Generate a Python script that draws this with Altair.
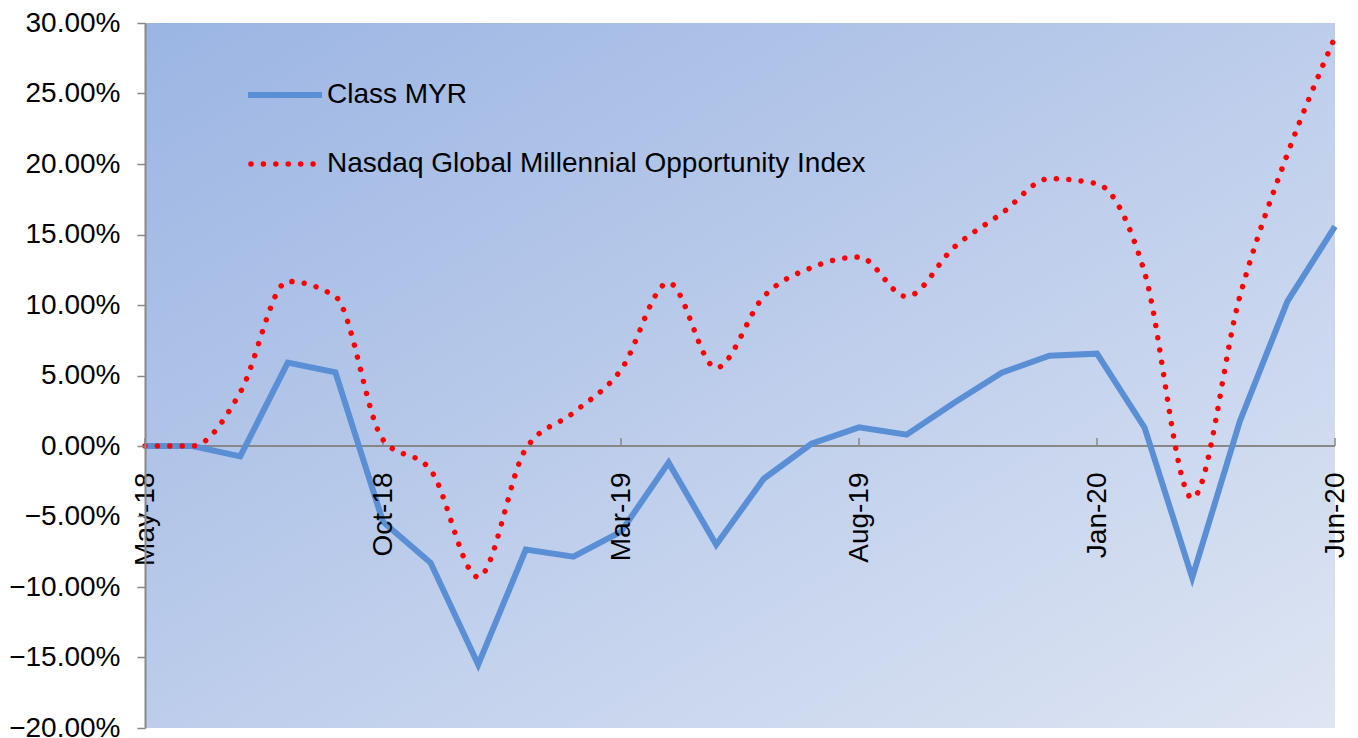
import altair as alt
import pandas as pd

months = ["May-18", "Jun-18", "Jul-18", "Aug-18", "Sep-18", "Oct-18", "Nov-18", "Dec-18",
          "Jan-19", "Feb-19", "Mar-19", "Apr-19", "May-19", "Jun-19", "Jul-19", "Aug-19",
          "Sep-19", "Oct-19", "Nov-19", "Dec-19", "Jan-20", "Feb-20", "Mar-20", "Apr-20",
          "May-20", "Jun-20"]

# cumulative return, in percent
class_myr = [0.0, 0.0, -0.74, 5.91, 5.22, -5.37, -8.28, -15.5, -7.35, -7.85, -6.08, -1.18,
             -7.0, -2.32, 0.16, 1.32, 0.80, 3.07, 5.2, 6.4, 6.55, 1.3, -9.34, 1.74, 10.26, 15.57]
nasdaq = [0.0, 0.0, 3.8, 11.67, 10.6, 0.45, -1.7, -9.3, -0.2, 2.36, 5.4, 11.58,
          5.55, 10.6, 12.65, 13.4, 10.6, 14.1, 16.5, 18.96, 18.6, 12.3, -3.7, 10.6, 20.7, 29.0]

tick_months = ["May-18", "Oct-18", "Mar-19", "Aug-19", "Jan-20", "Jun-20"]
y_ticks = [-0.20, -0.15, -0.10, -0.05, 0.0, 0.05, 0.10, 0.15, 0.20, 0.25, 0.30]
series_names = ["Class MYR", "Nasdaq Global Millennial Opportunity Index"]
series_colors = ["#5A8FD5", "#FF0000"]

W, H = 1190, 705
FONT = "Liberation Sans"
GRAY = "#888888"
DOTS = [0.01, 12.4]

df = pd.DataFrame({
    "month": months * 2,
    "series": [series_names[0]] * len(months) + [series_names[1]] * len(months),
    "value": [v / 100 for v in class_myr] + [v / 100 for v in nasdaq],
})

x_enc = alt.X("month:O", sort=months,
              scale=alt.Scale(type="point", padding=0),
              axis=alt.Axis(values=tick_months, title=None, labelAngle=270,
                            labelAlign="right", labelBaseline="middle",
                            labelFontSize=28, labelFont=FONT, labelColor="black",
                            offset=-282, domain=False, ticks=False, labelPadding=26,
                            grid=False, zindex=1))

y_scale = alt.Scale(domain=[-0.2, 0.3], nice=False, zero=False)
y_enc = alt.Y("value:Q", scale=y_scale,
              axis=alt.Axis(values=y_ticks, format=".2%", title=None, grid=False,
                            labelFontSize=28, labelFont=FONT, labelColor="black",
                            domainColor=GRAY, domainWidth=2, tickColor=GRAY,
                            tickSize=8, tickWidth=1.5, labelPadding=17, zindex=1))

gradient = alt.LinearGradient(
    gradient="linear",
    stops=[alt.GradientStop(color="#9BB5E3", offset=0),
           alt.GradientStop(color="#DEE5F3", offset=1)],
    x1=0, y1=0, x2=1, y2=1)

one = pd.DataFrame({"a": [0]})

background = alt.Chart(one).mark_rect(fill=gradient).encode(
    x=alt.value(0), x2=alt.value(W), y=alt.value(0), y2=alt.value(H))

zero_line = alt.Chart(one).mark_rule(color=GRAY, strokeWidth=2).encode(
    y=alt.Y(datum=0, type="quantitative", scale=y_scale))

ticks = alt.Chart(pd.DataFrame({"month": tick_months})).mark_rule(
    color=GRAY, strokeWidth=1.5).encode(
    x=alt.X("month:O", sort=months),
    y=alt.Y(datum=0, type="quantitative", scale=y_scale),
    y2=alt.Y2(datum=0.0056))

blue = alt.Chart(df[df.series == series_names[0]]).mark_line(
    color=series_colors[0], strokeWidth=6).encode(x=x_enc, y=y_enc)

red = alt.Chart(df[df.series == series_names[1]]).mark_line(
    color=series_colors[1], strokeWidth=5.5, strokeDash=DOTS, strokeCap="round",
    interpolate="monotone").encode(x=x_enc, y=y_enc)

# legend drawn inside the plot area
LEG_X0, LEG_X1, LEG_TX = 103, 177, 182
LEG_Y = [72, 141]

leg_blue = alt.Chart(one).mark_rule(color=series_colors[0], strokeWidth=6).encode(
    x=alt.value(LEG_X0), x2=alt.value(LEG_X1), y=alt.value(LEG_Y[0]))
leg_red = alt.Chart(one).mark_rule(color=series_colors[1], strokeWidth=5.5,
                                   strokeDash=DOTS, strokeCap="round").encode(
    x=alt.value(LEG_X0 + 3), x2=alt.value(LEG_X1), y=alt.value(LEG_Y[1]))
leg_text_blue = alt.Chart(pd.DataFrame({"label": [series_names[0]]})).mark_text(
    align="left", baseline="middle", fontSize=28, font=FONT, color="black").encode(
    x=alt.value(LEG_TX), y=alt.value(LEG_Y[0]), text="label:N")
leg_text_red = alt.Chart(pd.DataFrame({"label": [series_names[1]]})).mark_text(
    align="left", baseline="middle", fontSize=28, font=FONT, color="black").encode(
    x=alt.value(LEG_TX), y=alt.value(LEG_Y[1]), text="label:N")

chart = alt.layer(background, zero_line, ticks, blue, red,
                  leg_blue, leg_red, leg_text_blue, leg_text_red).properties(
    width=W, height=H,
    autosize=alt.AutoSizeParams(type="none"),
    padding={"left": 137, "top": 15, "right": 15, "bottom": 20},
).configure_view(stroke=None)

chart.save("out.html", embed_options={"renderer": "svg", "actions": False})
